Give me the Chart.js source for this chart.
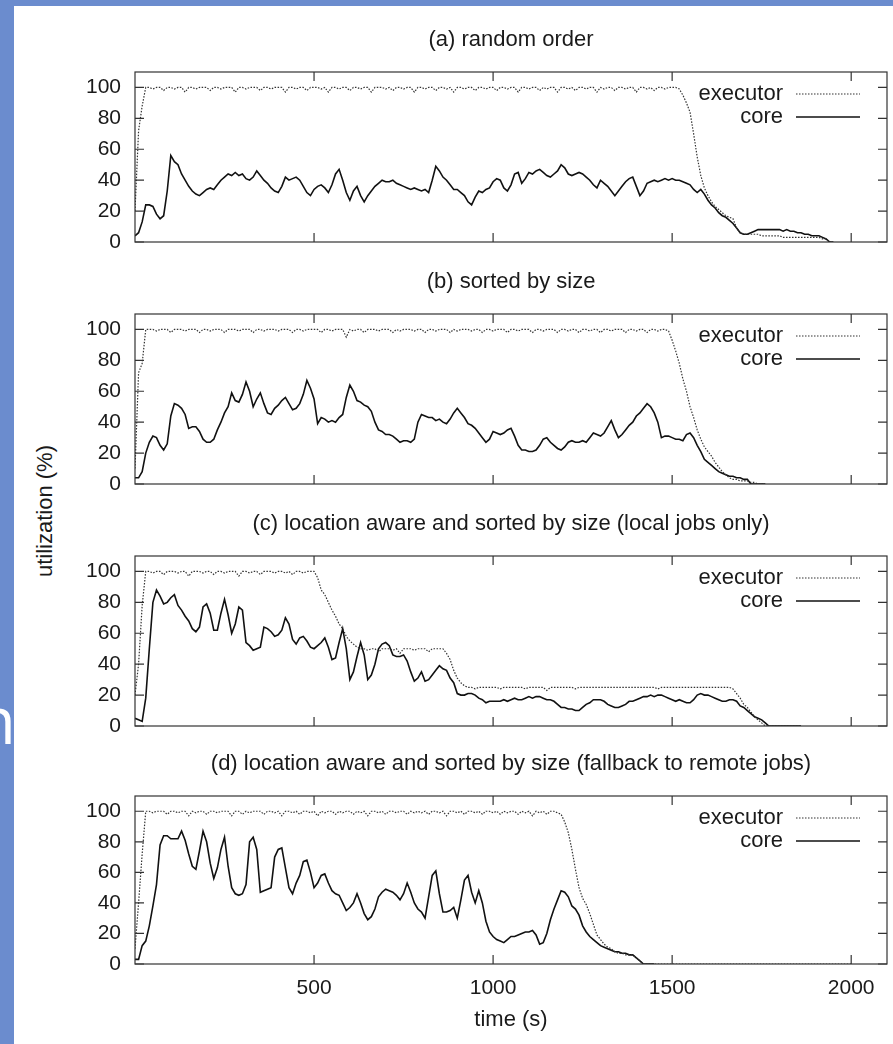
<!DOCTYPE html>
<html>
<head>
<meta charset="utf-8">
<title>utilization</title>
<script src="https://cdn.jsdelivr.net/npm/chart.js@4/dist/chart.umd.min.js"></script>
<style>
	body {
		margin: 0;
		width: 893px;
		height: 1044px;
		position: relative;
		overflow: hidden;
		background: #6b8cce;
		font-family: "Liberation Sans", Arial, sans-serif;
	}
	#slide-letter {
		position: absolute;
		left: -24px;
		top: 687px;
		color: #fff;
		font: 65px/1 "Open Sans", sans-serif;
	}
	#sheet {
		position: absolute;
		left: 14px;
		top: 6px;
		right: 0;
		bottom: 0;
		background: #fff;
	}
	canvas {
		position: absolute;
		left: 14px;
	}
	#y-label {
		position: absolute;
		left: -55px;
		top: 498px;
		width: 200px;
		line-height: 26px;
		font-size: 22px;
		color: #1a1a1a;
		text-align: center;
		transform: rotate(-90deg);
	}
</style>
</head>
<body>
<div id="slide-letter">n</div>
<div id="sheet"></div>
<div id="y-label">utilization (%)</div>
<canvas id="panel-a" width="879" height="272" style="top:10px"></canvas>
<canvas id="panel-b" width="879" height="272" style="top:252px"></canvas>
<canvas id="panel-c" width="879" height="272" style="top:494px"></canvas>
<canvas id="panel-d" width="879" height="310" style="top:734px"></canvas>
<script>
// un campione ogni 10 secondi
const STEP_S = 10;
const X_TICKS = [500, 1000, 1500, 2000];
const Y_TICKS = [0, 20, 40, 60, 80, 100];
const X_MAX = 2100;
const Y_MAX = 110;
const SERIES_NAMES = ["executor", "core"];
const PANEL_TITLES = [
	"(a) random order",
	"(b) sorted by size",
	"(c) location aware and sorted by size (local jobs only)",
	"(d) location aware and sorted by size (fallback to remote jobs)"
];

// (a) random order
const EXECUTOR_A = [
	20, 72, 88, 100, 100, 99, 100, 100, 98, 100, 100, 99, 100, 100, 97, 100, 100, 99, 100, 100,
	100, 98, 100, 100, 99, 100, 100, 100, 97, 100, 100, 99, 100, 100, 100, 98, 100, 100, 99, 100,
	100, 100, 97, 100, 100, 99, 100, 100, 98, 100, 100, 100, 99, 100, 97, 100, 100, 99, 100, 100,
	98, 100, 100, 99, 100, 100, 97, 100, 100, 100, 99, 100, 98, 100, 100, 99, 100, 100, 97, 100,
	100, 99, 100, 100, 98, 100, 100, 99, 100, 97, 100, 100, 99, 100, 100, 98, 100, 100, 99, 100,
	100, 98, 100, 100, 99, 100, 100, 97, 100, 100, 99, 100, 100, 98, 100, 99, 100, 100, 97, 100,
	100, 99, 100, 98, 100, 100, 99, 100, 100, 97, 100, 99, 100, 100, 98, 100, 100, 99, 100, 100,
	97, 100, 100, 99, 100, 98, 100, 100, 99, 100, 100, 100, 99, 95, 90, 84, 70, 55, 43, 35,
	30, 26, 23, 21, 19, 17, 16, 15, 9, 6, 5, 5, 5, 5, 5, 4, 4, 4, 4, 4,
	4, 3, 3, 3, 3, 3, 3, 3, 3, 3, 3, 3, 2, 2, 0, 0
];
const CORE_A = [
	4, 6, 13, 24, 24, 23, 18, 15, 17, 33, 56, 52, 50, 44, 40, 36, 33, 31, 30, 32,
	34, 35, 34, 37, 40, 42, 44, 43, 45, 43, 44, 41, 40, 42, 46, 43, 40, 38, 35, 33,
	32, 36, 42, 40, 41, 42, 40, 36, 32, 30, 34, 36, 37, 35, 32, 37, 44, 47, 40, 32,
	27, 33, 36, 30, 26, 30, 33, 36, 38, 40, 39, 39, 40, 38, 37, 36, 35, 34, 35, 34,
	33, 34, 32, 40, 49, 46, 42, 40, 37, 34, 34, 32, 30, 26, 24, 29, 33, 32, 34, 35,
	39, 41, 40, 35, 33, 37, 44, 45, 38, 41, 45, 44, 46, 47, 45, 43, 42, 44, 46, 50,
	48, 44, 43, 44, 45, 44, 42, 40, 37, 35, 40, 38, 36, 33, 30, 33, 36, 39, 41, 42,
	36, 30, 33, 38, 39, 40, 39, 40, 41, 40, 41, 40, 40, 39, 38, 37, 34, 32, 34, 31,
	27, 24, 22, 19, 17, 16, 14, 12, 9, 6, 5, 5, 6, 7, 8, 8, 8, 8, 8, 8,
	8, 7, 8, 7, 7, 6, 6, 5, 5, 4, 4, 4, 3, 2, 0, 0
];

// (b) sorted by size
const EXECUTOR_B = [
	10, 72, 78, 100, 100, 100, 99, 100, 100, 100, 98, 100, 100, 100, 99, 100, 100, 100, 98, 100,
	100, 99, 100, 100, 100, 98, 100, 100, 100, 99, 100, 100, 100, 98, 100, 100, 99, 100, 100, 100,
	99, 100, 100, 100, 98, 100, 100, 99, 100, 100, 100, 100, 98, 100, 100, 99, 100, 100, 100, 95,
	100, 99, 100, 100, 98, 100, 100, 100, 99, 100, 100, 100, 98, 100, 99, 100, 100, 100, 99, 100,
	100, 98, 100, 100, 99, 100, 100, 100, 98, 100, 99, 100, 100, 100, 99, 100, 100, 98, 100, 100,
	99, 100, 100, 100, 98, 100, 100, 99, 100, 100, 100, 98, 100, 100, 99, 100, 100, 100, 98, 100,
	100, 99, 100, 100, 98, 100, 100, 99, 100, 100, 98, 100, 100, 99, 100, 100, 100, 98, 100, 100,
	99, 100, 100, 98, 100, 100, 99, 100, 100, 99, 93, 86, 78, 68, 60, 50, 43, 35, 29, 24,
	21, 18, 14, 11, 8, 6, 4, 3, 3, 2, 2, 2, 1, 1, 0, 0, 0
];
const CORE_B = [
	4, 4, 8, 20, 27, 31, 30, 25, 22, 26, 44, 52, 51, 49, 45, 36, 37, 37, 34, 29,
	27, 27, 29, 35, 40, 46, 50, 59, 54, 53, 58, 66, 60, 50, 55, 59, 52, 46, 45, 49,
	51, 54, 56, 52, 48, 49, 52, 58, 67, 62, 55, 39, 43, 42, 40, 41, 40, 43, 45, 56,
	64, 60, 54, 53, 51, 50, 47, 40, 35, 34, 32, 32, 31, 29, 27, 28, 28, 27, 29, 40,
	45, 44, 43, 43, 41, 42, 40, 39, 42, 46, 49, 46, 43, 39, 38, 36, 33, 30, 27, 29,
	34, 33, 32, 33, 35, 36, 31, 25, 22, 22, 21, 21, 22, 25, 29, 30, 27, 25, 23, 22,
	24, 27, 28, 27, 27, 28, 27, 30, 33, 32, 31, 33, 37, 41, 35, 30, 32, 35, 38, 40,
	44, 46, 49, 52, 50, 46, 40, 30, 31, 31, 30, 29, 29, 28, 32, 33, 30, 25, 21, 16,
	14, 12, 10, 8, 7, 6, 5, 5, 4, 4, 3, 3, 0, 0, 0, 0, 0
];

// (c) location aware, local jobs only
const EXECUTOR_C = [
	20, 40, 78, 100, 100, 99, 100, 100, 98, 100, 100, 100, 99, 100, 100, 97, 100, 100, 100, 99,
	100, 100, 98, 100, 100, 99, 100, 100, 100, 97, 100, 100, 99, 100, 100, 98, 100, 100, 100, 99,
	100, 100, 99, 100, 98, 100, 100, 99, 100, 100, 100, 96, 88, 85, 80, 75, 71, 66, 63, 58,
	55, 53, 51, 50, 50, 49, 50, 50, 48, 50, 50, 50, 49, 50, 47, 50, 50, 50, 49, 50,
	50, 50, 48, 50, 50, 50, 50, 47, 43, 36, 31, 28, 26, 25, 25, 24, 25, 25, 25, 25,
	25, 25, 24, 25, 25, 25, 25, 25, 25, 24, 25, 25, 25, 25, 25, 23, 25, 25, 25, 25,
	25, 25, 25, 24, 25, 25, 25, 25, 25, 25, 25, 25, 25, 25, 25, 25, 25, 25, 25, 25,
	25, 25, 25, 25, 25, 25, 24, 25, 25, 25, 25, 25, 25, 25, 25, 25, 25, 25, 25, 25,
	25, 25, 25, 25, 25, 25, 25, 24, 21, 18, 14, 12, 9, 6, 4, 2, 0, 0, 0, 0,
	0, 0, 0, 0, 0, 0, 0
];
const CORE_C = [
	5, 4, 3, 18, 50, 80, 88, 84, 79, 80, 83, 85, 78, 75, 71, 68, 63, 61, 64, 77,
	79, 73, 62, 62, 73, 82, 72, 60, 66, 77, 75, 54, 52, 49, 50, 51, 64, 63, 61, 58,
	59, 62, 70, 66, 56, 53, 57, 58, 55, 51, 50, 52, 54, 57, 51, 43, 44, 54, 63, 50,
	30, 35, 45, 54, 46, 30, 33, 40, 50, 53, 54, 52, 46, 45, 45, 46, 42, 35, 29, 31,
	35, 29, 30, 33, 36, 39, 37, 36, 31, 28, 21, 20, 20, 21, 21, 20, 18, 17, 15, 16,
	16, 16, 16, 17, 16, 17, 18, 17, 17, 18, 19, 18, 19, 19, 18, 17, 17, 16, 14, 12,
	12, 11, 11, 10, 10, 12, 14, 15, 17, 17, 17, 16, 14, 13, 12, 12, 13, 14, 16, 16,
	17, 18, 19, 19, 20, 19, 20, 20, 19, 18, 17, 16, 17, 16, 15, 15, 17, 20, 21, 20,
	20, 19, 18, 17, 16, 16, 17, 17, 16, 13, 12, 10, 8, 6, 5, 4, 2, 0, 0, 0,
	0, 0, 0, 0, 0, 0, 0
];

// (d) location aware, fallback to remote jobs
const EXECUTOR_D = [
	10, 40, 72, 100, 100, 99, 100, 100, 100, 98, 100, 100, 99, 100, 100, 97, 100, 99, 100, 100,
	98, 100, 100, 99, 100, 100, 100, 97, 100, 100, 98, 100, 99, 100, 100, 100, 98, 100, 100, 99,
	100, 97, 100, 100, 99, 100, 98, 100, 100, 99, 100, 97, 100, 99, 100, 100, 98, 100, 99, 100,
	100, 98, 100, 99, 100, 97, 100, 100, 99, 100, 98, 100, 100, 99, 100, 100, 98, 100, 99, 100,
	99, 100, 98, 100, 100, 99, 100, 97, 100, 100, 99, 100, 98, 100, 100, 99, 100, 98, 100, 100,
	99, 100, 98, 100, 99, 100, 100, 98, 100, 99, 100, 97, 100, 99, 100, 98, 100, 100, 99, 98,
	93, 86, 75, 62, 50, 43, 39, 33, 26, 19, 16, 13, 11, 10, 8, 7, 7, 6, 6, 6,
	4, 2, 0, 0, 0, 0, 0, 0, 0, 0, 0, 0, 0, 0, 0, 0, 0, 0, 0, 0,
	0, 0, 0, 0, 0, 0, 0, 0, 0, 0, 0, 0, 0, 0, 0, 0, 0, 0, 0, 0,
	0, 0, 0, 0, 0, 0, 0, 0, 0, 0, 0, 0, 0, 0, 0, 0, 0, 0, 0, 0,
	0
];
const CORE_D = [
	3, 3, 12, 15, 25, 38, 52, 78, 84, 84, 82, 82, 82, 87, 81, 72, 64, 62, 74, 87,
	80, 66, 56, 63, 75, 83, 64, 50, 46, 45, 46, 52, 80, 83, 75, 47, 48, 49, 50, 70,
	75, 76, 63, 50, 46, 53, 58, 67, 68, 60, 50, 53, 58, 59, 53, 48, 46, 45, 40, 35,
	37, 40, 46, 40, 33, 29, 31, 36, 44, 47, 49, 48, 47, 45, 42, 46, 53, 47, 40, 36,
	34, 30, 44, 58, 61, 46, 34, 34, 35, 37, 30, 42, 55, 58, 47, 40, 48, 40, 28, 21,
	18, 16, 15, 14, 16, 18, 18, 19, 20, 21, 21, 22, 19, 13, 14, 20, 29, 36, 42, 48,
	47, 44, 38, 36, 32, 25, 21, 18, 16, 14, 12, 11, 10, 9, 8, 8, 7, 7, 6, 6,
	4, 2, 0, 0, 0, 0
];

const TEXT_COLOR = "#1a1a1a";
const TICK_LEN = 9;

Chart.defaults.font.family = '"Liberation Sans", Arial, Helvetica, sans-serif';

// Cornice, tacche interne e legenda in stile gnuplot
const gnuplotFrame = {
	id: "gnuplotFrame",
	afterDraw(chart) {
		let ctx = chart.ctx;
		let area = chart.chartArea;
		let x = chart.scales.x;
		let y = chart.scales.y;

		ctx.save();
		ctx.strokeStyle = "#333";
		ctx.lineWidth = 1.2;
		ctx.setLineDash([]);
		ctx.strokeRect(area.left, area.top, area.width, area.height);

		ctx.beginPath();
		for (let v of X_TICKS) {
			let px = x.getPixelForValue(v);
			ctx.moveTo(px, area.bottom);
			ctx.lineTo(px, area.bottom - TICK_LEN);
			ctx.moveTo(px, area.top);
			ctx.lineTo(px, area.top + TICK_LEN);
		}
		for (let v of Y_TICKS) {
			let py = y.getPixelForValue(v);
			ctx.moveTo(area.left, py);
			ctx.lineTo(area.left + TICK_LEN, py);
			ctx.moveTo(area.right, py);
			ctx.lineTo(area.right - TICK_LEN, py);
		}
		ctx.stroke();

		// Legenda: testo allineato a destra, campione di linea a destra
		ctx.font = "22px " + Chart.defaults.font.family;
		ctx.fillStyle = TEXT_COLOR;
		ctx.textAlign = "right";
		ctx.textBaseline = "middle";
		chart.data.datasets.forEach((ds, i) => {
			let ly = area.top + 22 + i * 23;
			ctx.fillText(ds.label, area.right - 104, ly);
			ctx.strokeStyle = ds.borderColor;
			ctx.lineWidth = ds.borderWidth;
			ctx.setLineDash(ds.borderDash || []);
			ctx.beginPath();
			ctx.moveTo(area.right - 91, ly);
			ctx.lineTo(area.right - 27, ly);
			ctx.stroke();
		});
		ctx.restore();
	}
};

function toPoints(values) {
	return values.map((v, i) => ({ x: i * STEP_S, y: v }));
}

function creaPannello(canvasId, titolo, executor, core, inBasso) {
	return new Chart(document.getElementById(canvasId), {
		type: "line",
		data: {
			datasets: [
				{
					label: SERIES_NAMES[0],
					data: toPoints(executor),
					borderColor: "#333",
					borderWidth: 1.2,
					borderDash: [1.5, 1.5],
					pointRadius: 0,
					tension: 0,
				},
				{
					label: SERIES_NAMES[1],
					data: toPoints(core),
					borderColor: "#111",
					borderWidth: 1.6,
					pointRadius: 0,
					tension: 0,
				}
			]
		},
		options: {
			responsive: false,
			animation: false,
			devicePixelRatio: 1,
			layout: { padding: { top: 0, right: 6, bottom: 0, left: 0 } },
			plugins: {
				legend: { display: false },
				tooltip: { enabled: false },
				title: {
					display: true,
					fullSize: false,
					text: titolo,
					color: TEXT_COLOR,
					font: { size: 22, weight: "normal", lineHeight: 1.2 },
					padding: { top: 16.8, bottom: 18.8 },
				},
			},
			scales: {
				x: {
					type: "linear",
					min: 0,
					max: X_MAX,
					grid: { display: false, drawTicks: false },
					border: { display: false },
					ticks: {
						display: inBasso,
						color: TEXT_COLOR,
						font: { size: 21, lineHeight: 1.2 },
						padding: 11.4,
						maxRotation: 0,
						autoSkip: false,
						// niente separatore delle migliaia
						callback: (v) => String(v),
					},
					title: {
						display: inBasso,
						text: "time (s)",
						color: TEXT_COLOR,
						font: { size: 22, lineHeight: 1.2 },
						padding: { top: 0, bottom: 10.8 },
					},
					afterBuildTicks: (scale) => { scale.ticks = X_TICKS.map(v => ({ value: v })); },
					afterFit: (scale) => { scale.height = inBasso ? 80 : 40; },
				},
				y: {
					min: 0,
					max: Y_MAX,
					grid: { display: false, drawTicks: false },
					border: { display: false },
					ticks: {
						color: TEXT_COLOR,
						font: { size: 21, lineHeight: 1.2 },
						padding: 14,
					},
					afterBuildTicks: (scale) => { scale.ticks = Y_TICKS.map(v => ({ value: v })); },
					afterFit: (scale) => { scale.width = 121; },
				}
			}
		},
		plugins: [gnuplotFrame]
	});
}

creaPannello("panel-a", PANEL_TITLES[0], EXECUTOR_A, CORE_A, false);
creaPannello("panel-b", PANEL_TITLES[1], EXECUTOR_B, CORE_B, false);
creaPannello("panel-c", PANEL_TITLES[2], EXECUTOR_C, CORE_C, false);
creaPannello("panel-d", PANEL_TITLES[3], EXECUTOR_D, CORE_D, true);
</script>
</body>
</html>
